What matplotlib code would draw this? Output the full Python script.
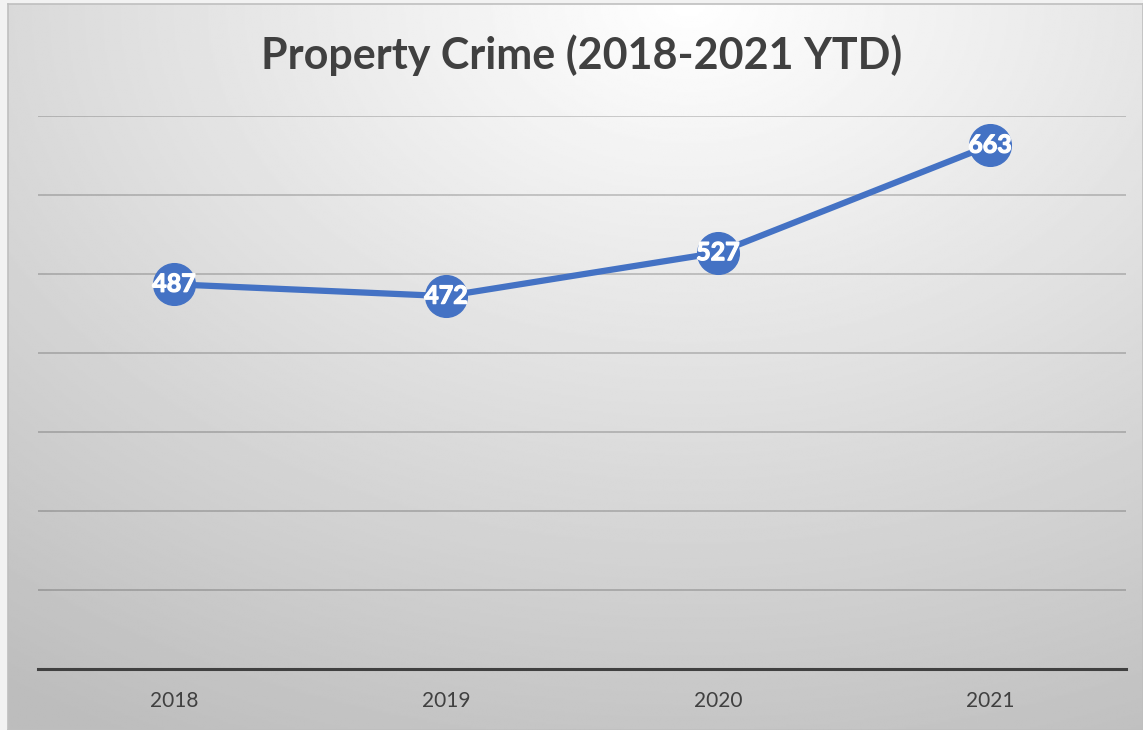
import numpy as np
import matplotlib.pyplot as plt
import matplotlib.patheffects as pe

# yearly property crime counts
years = ["2018", "2019", "2020", "2021"]
crimes = [487, 472, 527, 663]

blue = "#4472C4"
dark = "#404040"

fig = plt.figure(figsize=(11.43, 7.30), dpi=100, facecolor="#f2f2f2")

# chart panel with a soft radial gradient
bg = fig.add_axes([8 / 1143, 0, 1 - 8 / 1143, 726 / 730])
yy, xx = np.mgrid[0:1:400j, 0:1:600j]
r = np.sqrt(((xx - 0.6) * 1.1) ** 2 + (yy * 1.0) ** 2)
shade = np.clip(1.0 - 0.26 * np.clip(r, 0, 1.15) / 1.15, 0, 1)
bg.imshow(shade, cmap="gray", vmin=0, vmax=1, extent=[0, 1, 1, 0],
          aspect="auto", interpolation="bilinear")
bg.set_xlim(0, 1)
bg.set_ylim(1, 0)
for s in bg.spines.values():
    s.set_color("#bfbfbf")
    s.set_linewidth(1.2)
bg.set_xticks([])
bg.set_yticks([])

ax = fig.add_axes([38 / 1143, 61 / 730, 1088 / 1143, 553 / 730])
ax.patch.set_alpha(0)
x = np.arange(len(years))
ax.plot(x, crimes, color=blue, lw=4.5, marker="o", ms=30,
        markerfacecolor=blue, markeredgecolor=blue, zorder=3, clip_on=False)
for xi, v in zip(x, crimes):
    ax.text(xi, v, str(v), ha="center", va="center", color="white",
            fontsize=18, fontweight="bold", family="Lato", zorder=4,
            path_effects=[pe.withStroke(linewidth=0.9, foreground="white")])

ax.set_xlim(-0.5, len(years) - 0.5)
ax.set_ylim(0, 700)
ax.set_yticks(np.arange(100, 701, 100))
ax.yaxis.grid(True, color="black", alpha=0.2, lw=1.3)
ax.set_axisbelow(True)
ax.set_xticks(x)
ax.set_xticklabels(years, fontsize=15, color=dark, family="Lato")
ax.tick_params(axis="both", length=0, pad=16)
ax.tick_params(axis="y", labelleft=False)
for side in ["top", "left", "right"]:
    ax.spines[side].set_visible(False)
ax.spines["bottom"].set_color(dark)
ax.spines["bottom"].set_linewidth(2.2)

fig.text(582 / 1143, 1 - 55 / 730, "Property Crime (2018-2021 YTD)",
         ha="center", va="center", fontsize=31, fontweight="bold",
         color=dark, family="Lato")

fig.savefig("out.png", dpi=100, facecolor=fig.get_facecolor())
